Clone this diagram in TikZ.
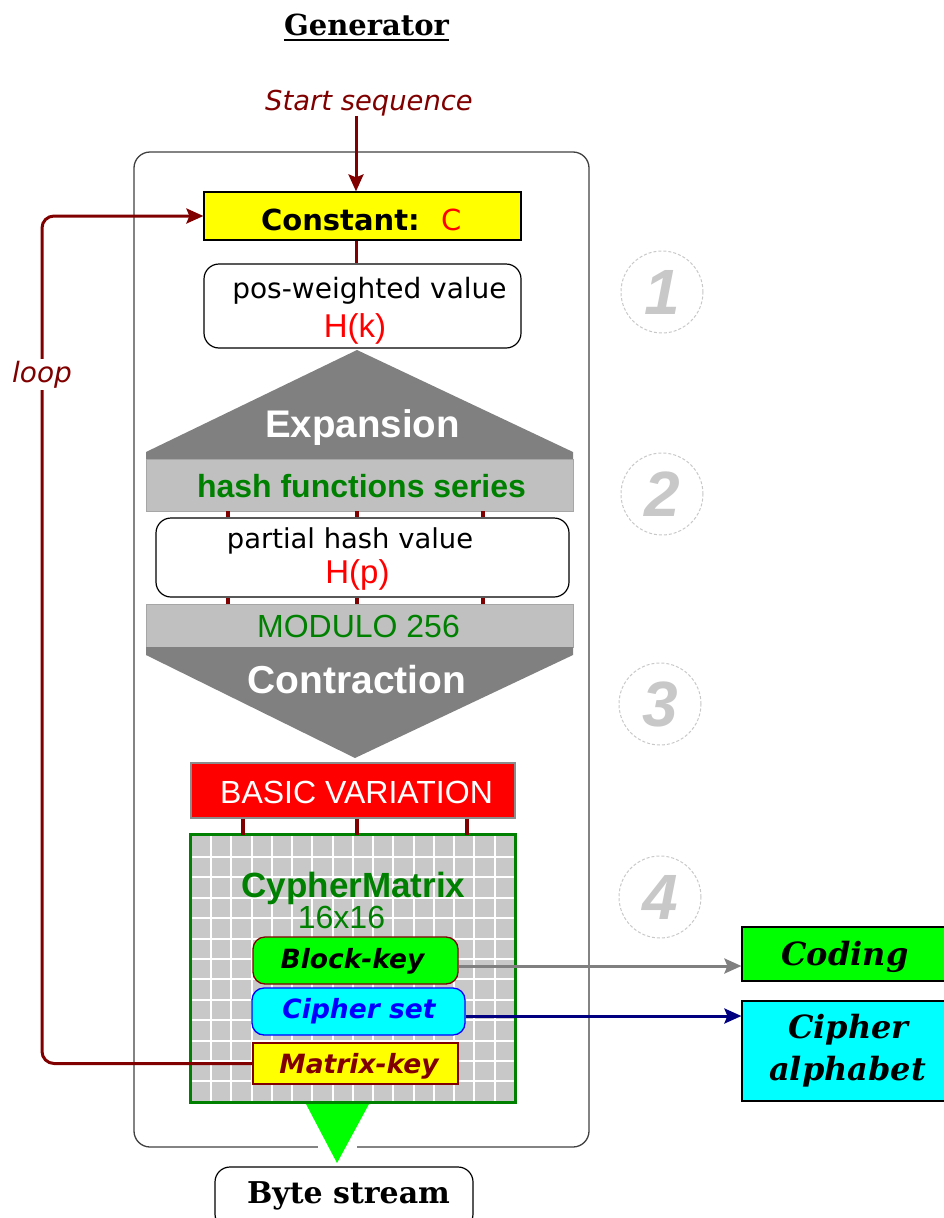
\documentclass[tikz,border=0pt]{standalone}
\usepackage{fontspec}
\newfontfamily\dvs{DejaVu Sans}
\newfontfamily\lib{Liberation Sans}
\newfontfamily\dvserif{DejaVu Serif}
\usetikzlibrary{arrows.meta}
\definecolor{dred}{RGB}{128,0,0}
\definecolor{dgreen}{RGB}{0,128,0}
\definecolor{lgreen}{RGB}{0,255,0}
\definecolor{ryellow}{RGB}{255,255,0}
\definecolor{rcyan}{RGB}{0,255,255}
\definecolor{rred}{RGB}{255,0,0}
\definecolor{rblue}{RGB}{0,0,255}
\definecolor{shapegray}{RGB}{128,128,128}
\definecolor{bandgray}{RGB}{192,192,192}
\definecolor{gridgray}{RGB}{200,200,200}
\definecolor{circgray}{RGB}{200,200,200}
\definecolor{navyblue}{RGB}{0,0,128}
\newcommand\fsz[1]{\fontsize{#1}{#1}\selectfont}
\begin{document}
\begin{tikzpicture}[x=1pt,y=-1pt,
 txt/.style={inner sep=0pt, anchor=base},
 dline/.style={draw=dred, line width=3pt},
 conn/.style={draw=dred, line width=4.5pt},
 tipd/.style={-{Stealth[length=17pt,width=15pt,inset=3pt]}},
 outerbox/.style={draw=black!75, line width=1.3pt, rounded corners=16pt, inner sep=0pt},
 rbox/.style={draw=black, line width=1.2pt, fill=white, rounded corners=15pt, inner sep=0pt},
 sbox/.style={draw=black, line width=1.2pt, inner sep=0pt},
 band/.style={fill=bandgray, draw=black!35, line width=0.8pt, inner sep=0pt},
 keybox/.style={line width=1.3pt, inner sep=0pt, minimum width=205pt},
 numc/.style={circle, draw=circgray, dash pattern=on 3pt off 2pt, line width=1pt, minimum size=82pt, inner sep=0pt, text=circgray, font=\lib\bfseries\itshape\fsz{64}},
 serifb/.style={font=\dvserif\bfseries\fsz{#1}},
 serifbi/.style={font=\dvserif\bfseries\itshape\fsz{#1}},
]
\useasboundingbox (0,0) rectangle (944,1218);
\clip (0,0) rectangle (944,1218);

% outer frame
\node[outerbox, minimum width=455, minimum height=995] (outer) at (361.5,649.5) {};

% title
\node[txt, serifb=29] (title) at (366.5,35) {Generator};
\draw[line width=1.5pt] ([yshift=-5pt]title.base west) -- ([yshift=-5pt]title.base east);

% start sequence
\node[txt, font=\dvs\itshape\fsz{27.4}, text=dred] (start) at (369,110) {Start sequence};

% constant
\node[sbox, fill=ryellow, minimum width=317, minimum height=48] (const) at (362.5,216) {};
\node[txt, font=\dvs\bfseries\fsz{29}] (constT) at (361.5,230) {Constant:\hspace{22pt}{\mdseries\color{rred}C}};
\coordinate (cTop) at ([xshift=-6.5pt]const.north);
\coordinate (cBot) at ([xshift=-6.5pt]const.south);
\draw[dline, tipd] (cTop |- start.south) -- (cTop);

% pos-weighted value
\node[rbox, minimum width=317, minimum height=84] (pos) at (362.5,306) {};
\draw[dline] (cBot) -- (cBot |- pos.north);
\node[txt, font=\dvs\fsz{28}] (posA) at (369.5,298) {pos-weighted value};
\node[txt, font=\lib\fsz{33}, text=rred] (posB) at (355,337) {H(k)};

% expansion
\fill[shapegray] (357,350) -- (573,452) -- (573,460) -- (146,460) -- (146,452) -- cycle;
\node[txt, font=\lib\bfseries\fsz{38.5}, text=white] (expT) at (362.5,437) {Expansion};

% hash band
\node[band, minimum width=427, minimum height=52] (hash) at (359.5,485) {};
\node[txt, font=\lib\bfseries\fsz{32}, text=dgreen] (hashT) at (361.5,497) {hash functions series};

% partial hash value
\node[rbox, minimum width=413, minimum height=79] (partial) at (362.5,557.5) {};
\node[txt, font=\dvs\fsz{27.4}] (partA) at (350,548) {partial hash value};
\node[txt, font=\lib\fsz{33}, text=rred] (partB) at (357.5,583) {H(p)};

% modulo band
\node[band, minimum width=427, minimum height=43] (modulo) at (359.5,625.5) {};
\node[txt, font=\lib\fsz{32}, text=dgreen] (modT) at (358.5,637) {MODULO 256};

\foreach \cx in {228,357,483} {
  \draw[conn] (hash.south -| \cx,0) -- (partial.north -| \cx,0);
  \draw[conn] (partial.south -| \cx,0) -- (modulo.north -| \cx,0);
}

% contraction
\fill[shapegray] (146,647) -- (573,647) -- (573,655) -- (355,758) -- (146,655) -- cycle;
\node[txt, font=\lib\bfseries\fsz{39}, text=white] (conT) at (357,693) {Contraction};

% basic variation
\node[draw=black!45, line width=1.2pt, fill=rred, minimum width=324, minimum height=55, inner sep=0pt] (basic) at (353,790.5) {};
\node[txt, font=\lib\fsz{32}, text=white] (basicT) at (356.5,803) {BASIC VARIATION};

% cypher matrix
\node[fill=gridgray, minimum width=324, minimum height=267, inner sep=0pt] (matrix) at (353,968.5) {};
\begin{scope}
  \clip (matrix.south west) rectangle (matrix.north east);
  \foreach \i in {0,...,14} \draw[white, line width=2pt] ({211+20.25*\i},835) -- ++(0,267);
  \foreach \j in {0,...,11} \draw[white, line width=2pt] (191,{857+20.4*\j}) -- ++(324,0);
\end{scope}
\draw[dgreen, line width=3pt] (matrix.south west) rectangle (matrix.north east);
\foreach \cx in {243,357,467} {
  \draw[conn] (basic.south -| \cx,0) -- (matrix.north -| \cx,0);
}
\node[txt, font=\lib\bfseries\fsz{35}, text=dgreen] (cmT) at (353.5,897) {CypherMatrix};
\node[txt, font=\lib\fsz{32}, text=dgreen] (cmS) at (341.5,928) {16x16};

\node[keybox, draw=dred, fill=lgreen, rounded corners=12pt, minimum height=47] (block) at (355.5,960.5) {};
\node[txt, font=\dvs\bfseries\itshape\fsz{26.5}] (blockT) at (352.5,968) {Block-key};
\node[keybox, draw=rblue, fill=rcyan, rounded corners=12pt, minimum width=213, minimum height=47] (cset) at (358.5,1011.5) {};
\node[txt, font=\dvs\bfseries\itshape\fsz{26.5}, text=rblue] (csetT) at (359,1018) {Cipher set};
\node[keybox, draw=dred, fill=ryellow, minimum height=41] (mkey) at (355.5,1063.5) {};
\node[txt, font=\dvs\bfseries\itshape\fsz{26.5}, text=dred] (mkeyT) at (359,1073) {Matrix-key};

% outputs
\node[sbox, fill=lgreen, minimum width=206, minimum height=54] (coding) at (845,954) {};
\node[txt, serifbi=32] (codT) at (845,965) {Coding};
\node[sbox, fill=rcyan, minimum width=206, minimum height=100] (calpha) at (845,1051) {};
\node[txt, serifbi=32] (caA) at (848.5,1038) {Cipher};
\node[txt, serifbi=32] (caB) at (847.5,1080) {alphabet};

\coordinate (bkE) at ([yshift=-5.5pt]block.east);
\draw[draw=shapegray, line width=3pt, -{Stealth[length=17pt,width=15pt,inset=3pt]}] (bkE) -- (bkE -| coding.west);
\coordinate (csE) at ([yshift=-4.5pt]cset.east);
\draw[draw=navyblue, line width=3pt, -{Stealth[length=17pt,width=15pt,inset=3pt]}] (csE) -- (csE -| calpha.west);

% loop
\coordinate (lc) at (42,0);
\draw[dline, rounded corners=12pt, tipd] (mkey.west) -- (mkey.west -| lc) |- (const.west);
\node[txt, fill=white, inner sep=2pt, font=\dvs\itshape\fsz{28}, text=dred] (loop) at (42,382) {loop};

% output triangle
\fill[white] (318,1144) rectangle (357,1150);
\fill[lgreen] (306,1104) -- (369,1104) -- (337,1163) -- cycle;

% byte stream
\node[rbox, minimum width=258, minimum height=62] (byte) at (344,1198) {};
\node[txt, serifb=30] (byteT) at (348.5,1203) {Byte stream};

% step numbers
\node[numc] (n1) at (662,292) {1};
\node[numc] (n2) at (662,494) {2};
\node[numc] (n3) at (660,704) {3};
\node[numc] (n4) at (660,897) {4};
\end{tikzpicture}
\end{document}
